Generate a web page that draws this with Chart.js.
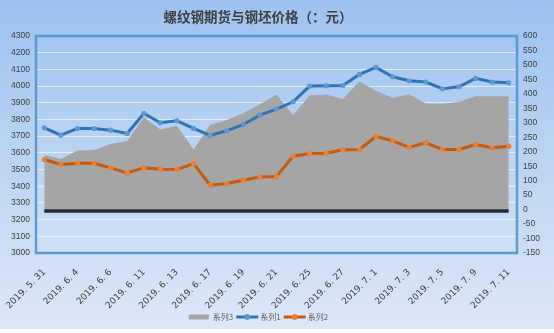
<!DOCTYPE html>
<html>
<head>
<meta charset="utf-8">
<title>螺纹钢期货与钢坯价格</title>
<script src="https://cdn.jsdelivr.net/npm/chart.js@4/dist/chart.umd.min.js"></script>
<style>
  body { margin: 0; background: #fff; }
  #wrap {
    position: relative; width: 554px; height: 329px;
    background: linear-gradient(to bottom, #9cc2ef 0%, #c3d8f3 60%, #dde8f7 100%);
  }
</style>
</head>
<body>
<div id="wrap"><canvas id="steelChart"></canvas></div>
<script>
// trading days
var dates = ['2019.5.31', '2019.6.3', '2019.6.4', '2019.6.5', '2019.6.6', '2019.6.10',
  '2019.6.11', '2019.6.12', '2019.6.13', '2019.6.14', '2019.6.17', '2019.6.18',
  '2019.6.19', '2019.6.20', '2019.6.21', '2019.6.24', '2019.6.25', '2019.6.26',
  '2019.6.27', '2019.6.28', '2019.7.1', '2019.7.2', '2019.7.3', '2019.7.4',
  '2019.7.5', '2019.7.8', '2019.7.9', '2019.7.10', '2019.7.11'];

// 系列1: rebar futures (left axis)
var futures = [3750, 3706, 3746, 3746, 3736, 3716, 3836, 3780, 3792, 3746, 3704, 3732,
  3770, 3826, 3862, 3906, 4000, 4002, 4004, 4070, 4112, 4056, 4032, 4024, 3984, 3996,
  4046, 4024, 4020];

// 系列2: billet price (left axis)
var billet = [3560, 3530, 3538, 3538, 3510, 3480, 3510, 3502, 3500, 3536, 3406, 3416,
  3436, 3456, 3458, 3580, 3596, 3598, 3618, 3620, 3698, 3672, 3632, 3660, 3620, 3620,
  3650, 3630, 3640];

// 系列3: spread (right axis)
var spread = [189, 175, 204, 206, 227, 237, 319, 277, 290, 208, 292, 310, 333, 364, 398,
  327, 394, 398, 382, 443, 410, 387, 399, 367, 366, 372, 392, 392, 392];

var chartTitle = '螺纹钢期货与钢坯价格（：元）';

// title, legend, frame and the zero bar
var decorations = {
  id: 'decorations',
  afterDatasetsDraw: function(chart) {
    var c = chart.ctx, x = chart.scales.x, y1 = chart.scales.y1;
    var y0 = y1.getPixelForValue(0) + 1.5;
    c.save();
    c.strokeStyle = '#232b35';
    c.lineWidth = 3.5;
    c.beginPath();
    c.moveTo(x.getPixelForValue(0), y0);
    c.lineTo(x.getPixelForValue(dates.length - 1), y0);
    c.stroke();
    c.restore();
  },
  afterDraw: function(chart) {
    var c = chart.ctx, a = chart.chartArea;
    c.save();
    c.strokeStyle = '#5b9bd5';
    c.lineWidth = 2.5;
    c.strokeRect(a.left, a.top, a.right - a.left, a.bottom - a.top);

    c.fillStyle = '#404040';
    c.font = 'bold 13.5px "Noto Sans CJK SC"';
    c.textAlign = 'center';
    c.textBaseline = 'middle';
    c.fillText(chartTitle, 258, 17);

    // legend
    var items = [chart.data.datasets[2], chart.data.datasets[0], chart.data.datasets[1]];
    c.font = '8px "Noto Sans CJK SC"';
    c.textAlign = 'left';
    var total = 0;
    items.forEach(function(d) { total += 24 + c.measureText(d.label).width + 3; });
    var lx = 260 - total / 2, ly = 317;
    items.forEach(function(d) {
      if (d.fill) {
        c.fillStyle = d.backgroundColor;
        c.fillRect(lx, ly - 2.5, 20, 5);
      } else {
        c.strokeStyle = d.borderColor;
        c.lineWidth = 3;
        c.beginPath();
        c.moveTo(lx, ly);
        c.lineTo(lx + 22, ly);
        c.stroke();
        c.fillStyle = d.pointBackgroundColor;
        c.beginPath();
        c.arc(lx + 11, ly, 3, 0, Math.PI * 2);
        c.fill();
      }
      c.fillStyle = '#595959';
      c.fillText(d.label, lx + 24, ly);
      lx += 24 + c.measureText(d.label).width + 3;
    });
    c.restore();
  }
};

var plain = function(v) { return String(v); };

var ctx = document.getElementById('steelChart').getContext('2d');
var myChart = new Chart(ctx, {
  type: 'line',
  data: {
    labels: dates,
    datasets: [{
        label: '系列1',
        data: futures,
        yAxisID: 'y',
        borderColor: '#2e75b6',
        borderWidth: 3,
        pointRadius: 2.6,
        pointBackgroundColor: '#5b9bd5',
        pointBorderColor: '#5b9bd5',
        pointBorderWidth: 0,
        order: 1
      }, {
        label: '系列2',
        data: billet,
        yAxisID: 'y',
        borderColor: '#c55a11',
        borderWidth: 3,
        pointRadius: 2.6,
        pointBackgroundColor: '#ed7d31',
        pointBorderColor: '#ed7d31',
        pointBorderWidth: 0,
        order: 2
      }, {
        label: '系列3',
        data: spread,
        yAxisID: 'y1',
        fill: 'origin',
        backgroundColor: '#a5a5a5',
        borderWidth: 0,
        pointRadius: 0,
        order: 3
      }
    ]
  },
  options: {
    responsive: true,
    maintainAspectRatio: false,
    animation: false,
    layout: { padding: { top: 36, left: 0, right: 0, bottom: 0 } },
    plugins: { legend: { display: false }, title: { display: false }, tooltip: { enabled: false } },
    scales: {
      x: {
        offset: true,
        grid: { display: false },
        border: { display: false },
        ticks: {
          autoSkip: false, minRotation: 45, maxRotation: 45, padding: 6,
          color: '#404040', font: { family: 'DejaVu Sans', size: 9 },
          callback: function(v, i) { return i % 2 === 0 ? dates[i].split('.').join('. ') : ''; }
        },
        afterFit: function(s) { s.height = 76; }
      },
      y: {
        position: 'left', min: 3000, max: 4300,
        grid: { color: 'rgba(255,255,255,0.6)', drawTicks: false },
        border: { display: false },
        ticks: { stepSize: 100, padding: 6, color: '#404040', callback: plain,
          font: { family: 'Liberation Sans', size: 8.5 } },
        afterFit: function(s) { s.width = 36; }
      },
      y1: {
        position: 'right', min: -150, max: 600,
        grid: { display: false, drawTicks: false },
        border: { display: false },
        ticks: { stepSize: 50, padding: 6, color: '#404040', callback: plain,
          font: { family: 'Liberation Sans', size: 8.5 } },
        afterFit: function(s) { s.width = 37; }
      }
    }
  },
  plugins: [decorations]
});
</script>
</body>
</html>
